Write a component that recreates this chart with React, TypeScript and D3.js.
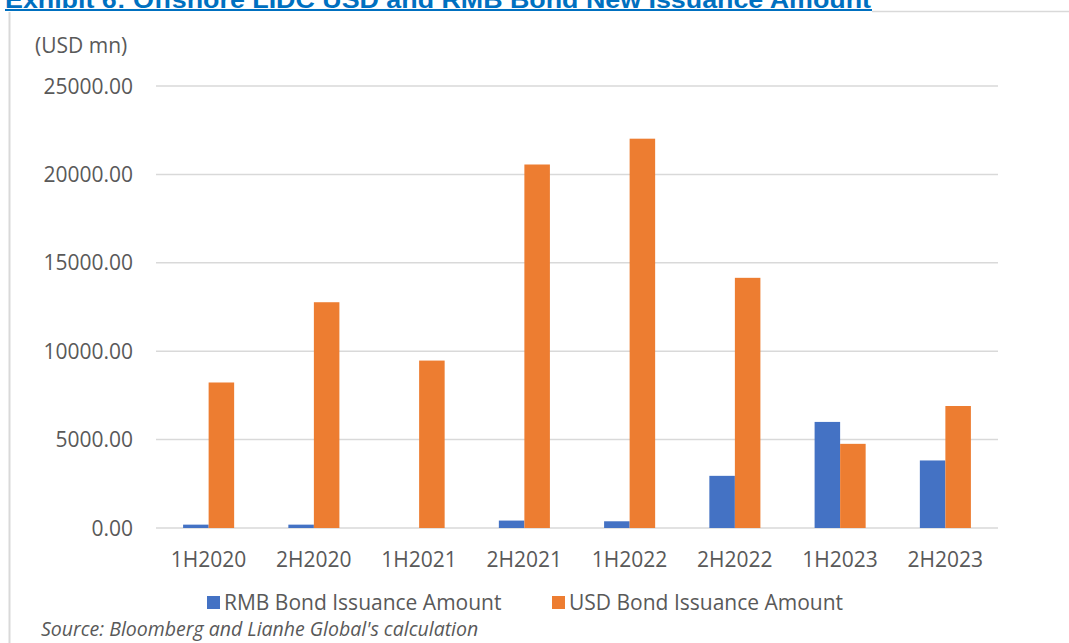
import React from "react";
import * as d3 from "d3";

const categories = ["1H2020", "2H2020", "1H2021", "2H2021", "1H2022", "2H2022", "1H2023", "2H2023"];
const seriesNames = ["RMB Bond Issuance Amount", "USD Bond Issuance Amount"];
const rmbValues = [190, 190, 0, 420, 380, 2950, 6000, 3820];
const usdValues = [8230, 12770, 9470, 20560, 22020, 14150, 4760, 6900];
const yTicks = [0, 5000, 10000, 15000, 20000, 25000];
const colors = ["#4472C4", "#ED7D31"];

const W = 1069;
const H = 643;
const FONT = "'Open Sans', sans-serif";

export default function App() {
  const x = d3.scaleBand<string>().domain(categories).range([156, 998]).paddingInner(0.515).paddingOuter(0.2575);
  const xs = d3.scaleBand<string>().domain(seriesNames).range([0, x.bandwidth()]);
  const y = d3.scaleLinear().domain([0, 25000]).range([528, 86]);
  const series = [rmbValues, usdValues];
  const fmt = d3.format(".2f");

  return (
    <svg width={W} height={H} style={{ position: "absolute", left: 0, top: 0, background: "#fff" }}>
      {/* title */}
      <text x={5} y={8} fontFamily="'Liberation Sans', Arial, sans-serif" fontWeight="bold" fontSize={23} fill="#0070C0" textLength={866} lengthAdjust="spacingAndGlyphs">
        Exhibit 6: Offshore LIDC USD and RMB Bond New Issuance Amount
      </text>
      <line x1={5} x2={872} y1={10} y2={10} stroke="#0070C0" strokeWidth={2} />
      {/* frame */}
      <line x1={872} x2={W} y1={11.5} y2={11.5} stroke="#d9d9d9" strokeWidth={1.5} />
      <line x1={9.5} x2={9.5} y1={12} y2={H} stroke="#d9d9d9" strokeWidth={2} />

      {/* unit */}
      <text x={35} y={53} fontFamily={FONT} fontSize={21} fill="#595959">(USD mn)</text>

      {/* grid + y labels */}
      {yTicks.map((t) => (
        <g key={t}>
          <line x1={156} x2={998} y1={y(t)} y2={y(t)} stroke="#d9d9d9" strokeWidth={1.5} />
          <text x={133} y={y(t)} dy="0.36em" textAnchor="end" fontFamily={FONT} fontSize={21} fill="#595959">
            {fmt(t)}
          </text>
        </g>
      ))}

      {/* bars */}
      {series.map((vals, si) =>
        vals.map((v, i) => (
          <rect
            key={`${si}-${i}`}
            x={(x(categories[i]) ?? 0) + (xs(seriesNames[si]) ?? 0)}
            y={y(v)}
            width={xs.bandwidth()}
            height={y(0) - y(v)}
            fill={colors[si]}
          />
        ))
      )}

      {/* x labels */}
      {categories.map((c) => (
        <text key={c} x={(x(c) ?? 0) + x.bandwidth() / 2} y={567} textAnchor="middle" fontFamily={FONT} fontSize={21} fill="#595959">
          {c}
        </text>
      ))}

      {/* legend */}
      <rect x={207} y={596} width={13} height={13} fill={colors[0]} />
      <text x={224} y={610} fontFamily={FONT} fontSize={21} fill="#595959">{seriesNames[0]}</text>
      <rect x={552} y={596} width={13} height={13} fill={colors[1]} />
      <text x={569} y={610} fontFamily={FONT} fontSize={21} fill="#595959">{seriesNames[1]}</text>

      {/* source */}
      <text x={41} y={636} fontFamily={FONT} fontStyle="italic" fontSize={19.5} fill="#595959">
        Source: Bloomberg and Lianhe Global's calculation
      </text>
    </svg>
  );
}
